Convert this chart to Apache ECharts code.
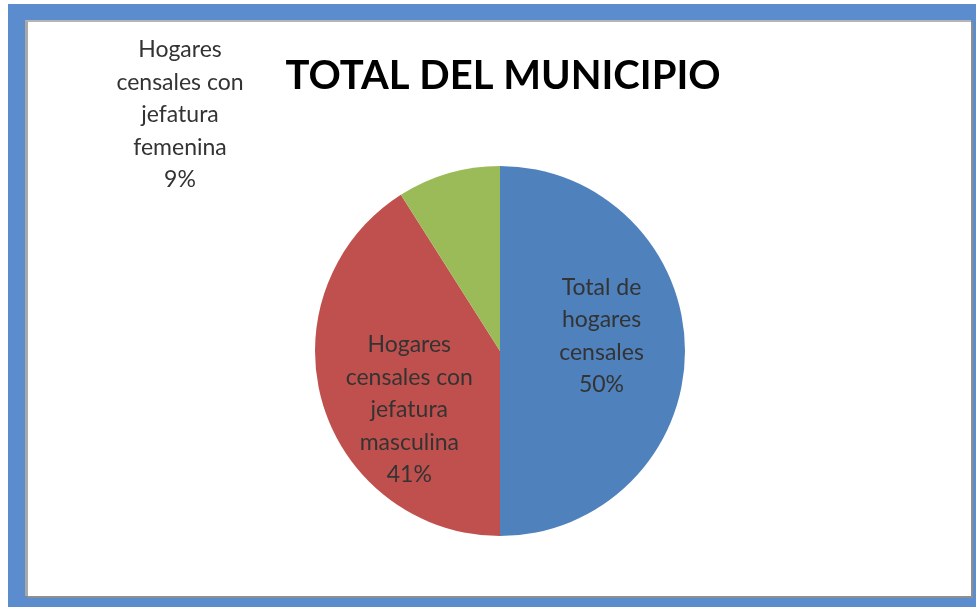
<!DOCTYPE html>
<html>
<head>
<meta charset="utf-8">
<script src="https://cdn.jsdelivr.net/npm/echarts@6/dist/echarts.min.js"></script>
<style>
  html, body { margin: 0; padding: 0; background: #fff; }
  .wrap { position: relative; width: 976px; height: 607px; overflow: hidden; }
  .frame { position: absolute; left: 8px; top: 4px; right: 0; bottom: 0; background: #5a8cce; }
  .inner {
    position: absolute; left: 25px; top: 20px; width: 946px; height: 576px;
    background: #fff; box-sizing: border-box;
    border-left: 3px solid #a9a9a9; border-top: 2px solid #b5b5b5;
    box-shadow: 2px 2px 0 #8e8e8e;
  }
  #main { position: absolute; left: 0; top: 0; width: 976px; height: 607px; }
</style>
</head>
<body>
<div class="wrap">
  <div class="frame"></div>
  <div class="inner"></div>
  <div id="main"></div>
</div>
<script>
// categorias y valores (porcentajes)
var categorias = [
  'Total de\nhogares\ncensales',
  'Hogares\ncensales con\njefatura\nmasculina',
  'Hogares\ncensales con\njefatura\nfemenina'
];
var valores = [50, 41, 9];
var colores = ['#4f81bd', '#c0504d', '#9bbb59'];

var myChart = echarts.init(document.getElementById('main'));

var data = categorias.map(function (c, i) {
  return { name: c, value: valores[i], itemStyle: { color: colores[i] } };
});

var option = {
  backgroundColor: 'transparent',
  animation: false,
  title: {
    text: 'TOTAL DEL MUNICIPIO',
    left: 498,
    top: 51,
    textAlign: 'center',
    textStyle: {
      fontFamily: 'Lato',
      fontWeight: 'bold',
      fontSize: 40,
      color: '#000'
    }
  },
  series: [
    {
      type: 'pie',
      center: [500, 351],
      radius: 185,
      startAngle: 90,
      clockwise: true,
      data: data,
      label: {
        show: true,
        position: 'inside',
        formatter: '{b}\n{d}%',
        fontFamily: 'Lato',
        fontSize: 23,
        lineHeight: 32.5,
        color: '#333',
        align: 'center'
      },
      labelLine: { show: false },
      emphasis: { disabled: true }
    }
  ]
};
// reubicar etiquetas como en el original (la femenina va fuera, arriba a la izquierda)
option.series[0].labelLayout = function (params) {
  if (params.dataIndex === 0) return { dx: 6, dy: -15 };
  if (params.dataIndex === 1) return { dx: 1, dy: 32 };
  return { x: 180, y: 115, align: 'center', verticalAlign: 'middle' };
};
myChart.setOption(option);
</script>
</body>
</html>
